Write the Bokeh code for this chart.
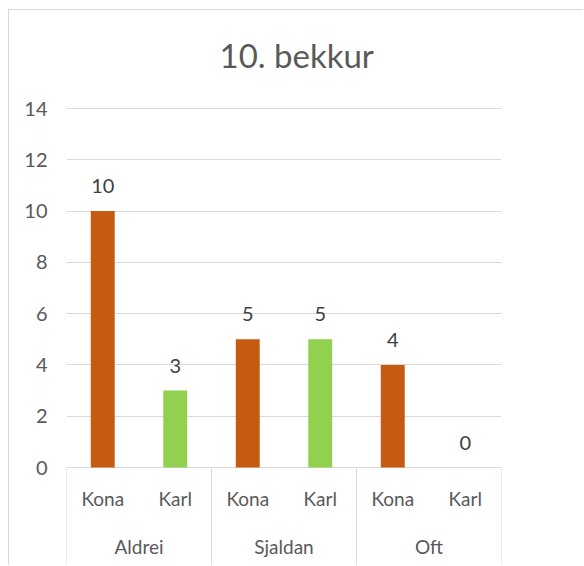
from bokeh.plotting import figure
from bokeh.models import FactorRange, ColumnDataSource, FixedTicker, LabelSet, Range1d
from bokeh.core.properties import value
from bokeh.embed import file_html
from bokeh.resources import INLINE

groups = ["Aldrei", "Sjaldan", "Oft"]
subs = ["Kona", "Karl"]
values = [10, 3, 5, 5, 4, 0]
colors = ["#C55A11", "#92D050"]
y_ticks = [0, 2, 4, 6, 8, 10, 12, 14]
title_text = "10. bekkur"

factors = [(g, s) for g in groups for s in subs]
bar_colors = [colors[i % 2] for i in range(len(factors))]
src = ColumnDataSource(dict(x=factors, top=values, color=bar_colors,
                            label=[str(v) for v in values]))

FONT = "Lato"
GRID = "#D9D9D9"
TXT = "#595959"

# vertical scale: 14 units over 359 px; frame continues 99 px below zero
# and 28 px above the top gridline (room for the title)
PX_PER_UNIT = 359 / 14.0
y_bottom = -99 / PX_PER_UNIT
y_top = y_ticks[-1] + 28 / PX_PER_UNIT

p = figure(x_range=FactorRange(*factors, range_padding=0, group_padding=0, factor_padding=0),
           y_range=Range1d(y_bottom, y_top), width=575, height=556, output_backend="svg",
           toolbar_location=None, title=title_text,
           min_border_left=57, min_border_right=83, min_border_top=70, min_border_bottom=0)
p.styles = {"margin-left": "8px", "margin-top": "9px",
            "border-left": "1px solid #D9D9D9", "border-top": "1px solid #D9D9D9"}

p.vbar(x="x", top="top", width=0.33, fill_color="color", line_color=None, source=src)
p.add_layout(LabelSet(x="x", y="top", text="label", source=src, text_align="center",
                      text_baseline="middle", y_offset=25, text_font=value(FONT),
                      text_font_size="20px", text_color="#404040"))

# category separators (group boundaries) from zero down through the label area
bounds = [i * len(subs) for i in range(len(groups) + 1)]
p.segment(x0=bounds, x1=bounds, y0=[0] * len(bounds), y1=[y_bottom] * len(bounds),
          line_color=GRID, line_width=1)

# two-level category labels
p.text(x=factors, y=[-31 / PX_PER_UNIT] * len(factors), text=[s for _, s in factors],
       text_align="center", text_baseline="middle", text_font=value(FONT),
       text_font_size="19px", text_color=TXT)
p.text(x=groups, y=[-79 / PX_PER_UNIT] * len(groups), text=groups,
       text_align="center", text_baseline="middle", text_font=value(FONT),
       text_font_size="19px", text_color=TXT)

p.title.text_font = FONT
p.title.text_font_size = "33px"
p.title.text_font_style = "normal"
p.title.text_color = TXT
p.title.align = "left"
p.title.vertical_align = "bottom"
p.title.offset = 153
p.title.standoff = 12

p.outline_line_color = None
p.xaxis.visible = False
p.xgrid.grid_line_color = None
p.ygrid.grid_line_color = GRID
p.ygrid.grid_line_width = 1

p.yaxis.ticker = FixedTicker(ticks=y_ticks)
p.yaxis.axis_line_color = None
p.yaxis.major_tick_line_color = None
p.yaxis.minor_tick_line_color = None
p.yaxis.major_label_standoff = 13
p.yaxis.major_label_text_font = FONT
p.yaxis.major_label_text_font_size = "20px"
p.yaxis.major_label_text_color = TXT

open("out.html", "w").write(file_html(p, INLINE))
